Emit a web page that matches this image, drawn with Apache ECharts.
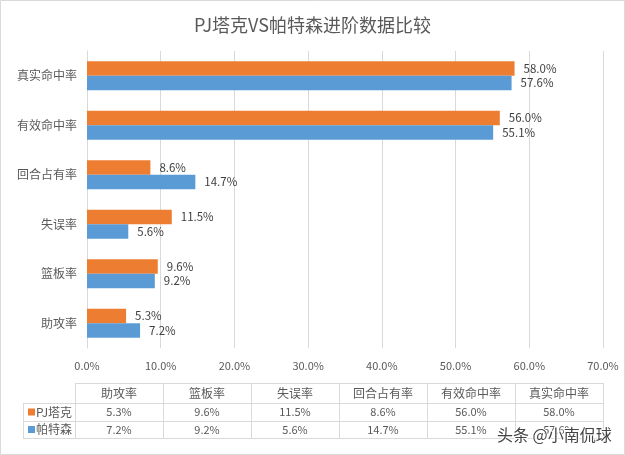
<!DOCTYPE html>
<html>
<head>
<meta charset="utf-8">
<script src="https://cdn.jsdelivr.net/npm/echarts@6/dist/echarts.min.js"></script>
<style>
  html, body { margin: 0; padding: 0; background: #fff; }
  #main { width: 625px; height: 455px; }
</style>
</head>
<body>
<div id="main"></div>
<script>
// 数据
var categories = ['助攻率', '篮板率', '失误率', '回合占有率', '有效命中率', '真实命中率'];
var tucker = [5.3, 9.6, 11.5, 8.6, 56.0, 58.0];
var patterson = [7.2, 9.2, 5.6, 14.7, 55.1, 57.6];
var seriesNames = ['PJ塔克', '帕特森'];
var seriesColors = ['#ED7D31', '#5B9BD5'];

(function(){
    var myChart = echarts.init(document.getElementById("main"));
    var font = '"Noto Sans CJK SC", "Noto Sans", sans-serif';
    var pct = function (v) { return v.toFixed(1) + '%'; };

    // 数据表 (图表下方)
    var tableLeft = 75, colW = 88, legendLeft = 23;
    var rowY = [383, 403, 421, 438];
    var lineStyle = { stroke: '#d9d9d9', lineWidth: 1 };
    var g = [];
    // 外框
    g.push({ type: 'rect', shape: { x: 0.5, y: 0.5, width: 624, height: 454 },
        style: { fill: 'none', stroke: '#d9d9d9', lineWidth: 1 }, silent: true });
    var right = tableLeft + colW * categories.length;
    // 横线
    g.push({ type: 'line', shape: { x1: tableLeft, y1: rowY[0] + 0.5, x2: right, y2: rowY[0] + 0.5 }, style: lineStyle });
    for (var r = 1; r < rowY.length; r++) {
        g.push({ type: 'line', shape: { x1: legendLeft, y1: rowY[r] + 0.5, x2: right, y2: rowY[r] + 0.5 }, style: lineStyle });
    }
    // 竖线
    g.push({ type: 'line', shape: { x1: legendLeft + 0.5, y1: rowY[1], x2: legendLeft + 0.5, y2: rowY[3] }, style: lineStyle });
    for (var c = 0; c <= categories.length; c++) {
        var x = tableLeft + colW * c + 0.5;
        g.push({ type: 'line', shape: { x1: x, y1: rowY[0], x2: x, y2: rowY[3] }, style: lineStyle });
    }
    // 表头
    categories.forEach(function (name, i) {
        g.push({ type: 'text', x: tableLeft + colW * i + colW / 2, y: (rowY[0] + rowY[1]) / 2,
            style: { text: name, fill: '#595959', font: '12px ' + font, align: 'center', verticalAlign: 'middle' } });
    });
    // 数据行
    [tucker, patterson].forEach(function (vals, s) {
        var cy = (rowY[s + 1] + rowY[s + 2]) / 2;
        g.push({ type: 'rect', shape: { x: legendLeft + 5, y: cy - 3.5, width: 7, height: 7 },
            style: { fill: seriesColors[s] } });
        g.push({ type: 'text', x: legendLeft + 13, y: cy,
            style: { text: seriesNames[s], fill: '#595959', font: '12px ' + font, verticalAlign: 'middle' } });
        vals.forEach(function (v, i) {
            g.push({ type: 'text', x: tableLeft + colW * i + colW / 2, y: cy,
                style: { text: pct(v), fill: '#595959', font: '11px ' + font, align: 'center', verticalAlign: 'middle' } });
        });
    });
    // 水印
    g.push({ type: 'text', x: 497, y: 435, z: 100,
        style: { text: '头条 @小南侃球', fill: '#444', font: '16px ' + font, verticalAlign: 'middle',
            stroke: '#fff', lineWidth: 2 } });

    var barLabel = { show: true, position: 'right', distance: 9, color: '#404040', fontSize: 11.5, fontFamily: font,
        formatter: function (p) { return pct(p.value); } };

    var option = {
        animation: false,
        title: {
            text: 'PJ塔克VS帕特森进阶数据比较',
            left: 'center',
            top: 11,
            textStyle: { color: '#595959', fontSize: 18, fontWeight: 'normal', fontFamily: font }
        },
        grid: { left: 87, right: 22, top: 51, bottom: 107 },
        xAxis: {
            type: 'value',
            min: 0,
            max: 70,
            interval: 10,
            axisLine: { show: false },
            axisTick: { show: false },
            axisLabel: { color: '#595959', fontSize: 11, fontFamily: font, margin: 12, formatter: pct },
            splitLine: { lineStyle: { color: '#d9d9d9' } }
        },
        yAxis: {
            type: 'category',
            data: categories,
            axisLine: { lineStyle: { color: '#d9d9d9' } },
            axisTick: { show: false },
            axisLabel: { color: '#595959', fontSize: 12, fontFamily: font, margin: 10 }
        },
        series: [
            {
                name: seriesNames[0],
                type: 'bar',
                data: tucker,
                barWidth: 14.5,
                barGap: '0%',
                itemStyle: { color: seriesColors[0] },
                label: barLabel
            },
            {
                name: seriesNames[1],
                type: 'bar',
                data: patterson,
                barWidth: 14.5,
                barGap: '0%',
                itemStyle: { color: seriesColors[1] },
                label: barLabel
            }
        ],
        graphic: g
    };
    myChart.setOption(option);
})();
</script>
</body>
</html>
